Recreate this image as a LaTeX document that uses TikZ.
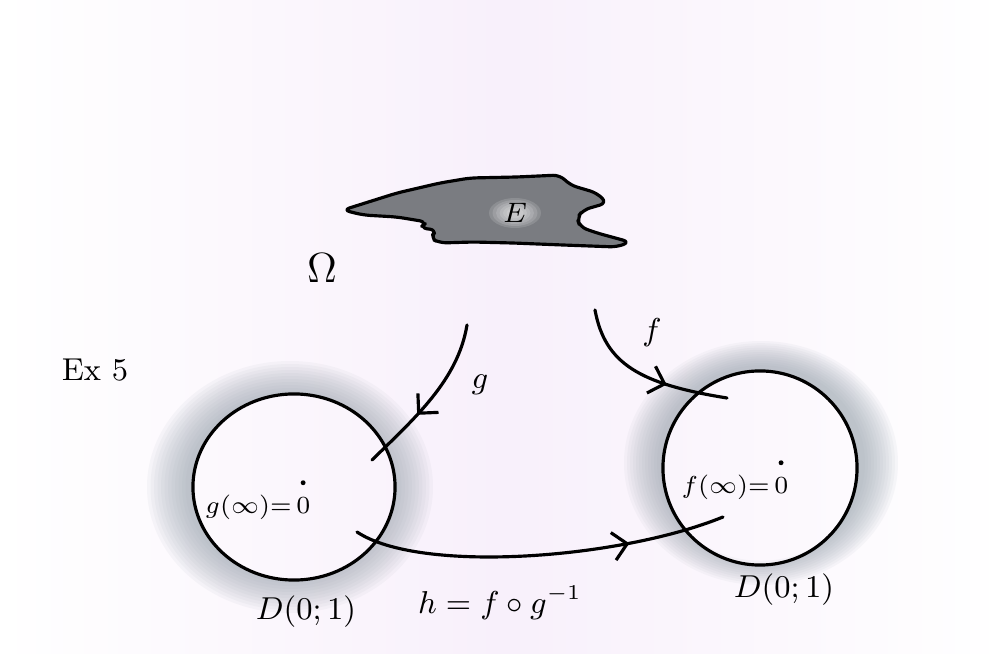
\documentclass[tikz,border=0pt]{standalone}
\usepackage{tikz}
\usetikzlibrary{arrows.meta,decorations.markings,shapes.geometric,backgrounds}
\definecolor{paperpink}{RGB}{248,240,251}
\definecolor{pencil}{RGB}{152,162,172}
\definecolor{blobgray}{RGB}{122,124,129}

\begin{document}
\begin{tikzpicture}[x=0.01cm,y=0.01cm,
    ink/.style={line width=0.9pt,line cap=round,line join=round},
    disk/.style={ellipse,draw,line width=0.9pt,inner sep=0pt},
    lbl/.style={font=\small,inner sep=1pt},
    smalllbl/.style={font=\scriptsize,inner sep=1pt},
    midarrow/.style={postaction={decorate},decoration={markings,
      mark=at position #1 with {\arrow{Straight Barb[length=1.4mm,width=2.8mm]}}}}]
  \useasboundingbox (0,0) rectangle (1005,654);

  % the set E
  \draw[ink,fill=blobgray,rounded corners=2pt]
    (343,444) -- (397,461) -- (440,471) -- (470,476) -- (517,477) -- (560,479)
    -- (570,469) -- (597,461) -- (607,451) -- (583,444) -- (577,436) -- (580,427)
    -- (597,421) -- (630,412) -- (617,407) -- (563,409) -- (513,411) -- (473,412)
    -- (440,411) -- (430,416) -- (437,424) -- (420,426) -- (427,432) -- (397,437)
    -- (363,439) -- cycle;
  \foreach \k in {0,...,5}
    \fill[white,opacity=0.14] (515,441) ellipse [x radius={26-3.5*\k}, y radius={15-2*\k}];
  \node[font=\footnotesize] (etext) at (515,441) {$E$};

  \node[font=\large] (omega) at (322,386) {$\Omega$};
  \node[lbl] (ex) at (95,284) {Ex 5};

  % the two unit discs
  \node[disk,minimum width=2.02cm,minimum height=1.86cm] (dl) at (294,167) {};
  \node[disk,minimum width=1.94cm,minimum height=1.94cm] (dr) at (760,186) {};

  \node[smalllbl] (gval) at (258,147) {$g(\infty){=}\,0$};
  \node[smalllbl] (fval) at (735,167) {$f(\infty){=}\,0$};
  \fill ([xshift=-3.3pt,yshift=2.2pt]gval.north east) circle (0.7pt);
  \fill ([xshift=-3.3pt,yshift=2.2pt]fval.north east) circle (0.7pt);
  \node[lbl] (dlname) at (306,42) {$D(0;1)$};
  \node[lbl] (drname) at (784,64) {$D(0;1)$};
  \node[lbl] (hname) at (500,51) {$h=f\circ g^{-1}$};
  \node[lbl] (glab) at (480,269) {$g$};
  \node[lbl] (flab) at (652,321) {$f$};

  \coordinate (gstart) at (467,329);
  \coordinate (gend) at (372,194);
  \coordinate (fstart) at (595,344);
  \coordinate (fend) at (727,256);
  \coordinate (hstart) at (357,122);
  \coordinate (hend) at (723,137);

  \draw[ink,midarrow=0.62] (gstart) .. controls (458,274) and (415,236) .. (gend);
  \draw[ink,midarrow=0.64] (fstart) .. controls (605,290) and (640,270) .. (fend);
  \draw[ink,midarrow=0.74] (hstart) .. controls (420,80) and (620,95) .. (hend);

  % paper tint and pencil shading
  \begin{scope}[on background layer]
    \shade[left color=white,right color=white,middle color=paperpink]
      (0,0) rectangle (1005,654);
    \foreach \k in {0,...,11}{
      \fill[pencil,opacity=0.07,even odd rule]
        (290,167) ellipse [x radius={143-3.5*\k}, y radius={126-3*\k}]
        (294,167) ellipse [x radius=101, y radius=93];
      \fill[pencil,opacity=0.07,even odd rule]
        (761,191) ellipse [x radius={137-3*\k}, y radius={122-2.2*\k}]
        (760,186) ellipse [x radius=97, y radius=97];
    }
  \end{scope}
\end{tikzpicture}
\end{document}
